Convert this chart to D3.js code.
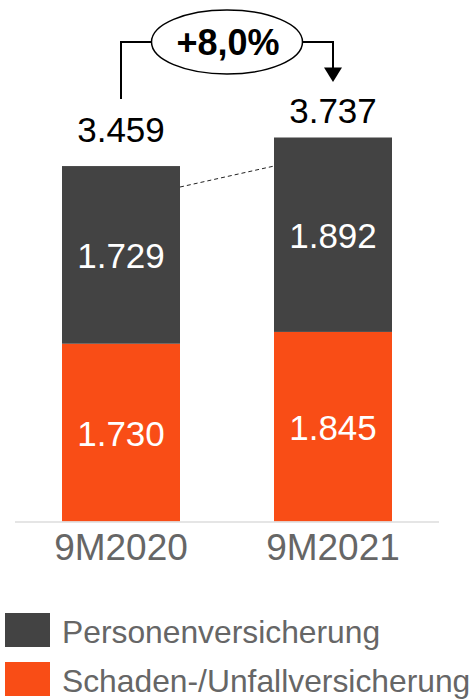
<!DOCTYPE html>
<html>
<head>
<meta charset="utf-8">
<script src="https://cdn.jsdelivr.net/npm/d3@7"></script>
<style>
  html, body { margin: 0; padding: 0; background: #fff; }
  svg { display: block; font-family: "Liberation Sans", Arial, sans-serif; }
</style>
</head>
<body>
<div id="chart"></div>
<script>
const periods = ["9M2020", "9M2021"];
const schaden = [1730, 1845];
const personen = [1729, 1892];
const totals = [3459, 3737];
const growthLabel = "+8,0%";
const seriesNames = ["Personenversicherung", "Schaden-/Unfallversicherung"];
// dashed guide between the bars, in value units (left end, right end)
const guideValues = [3255, 3459];

const colors = { personen: "#434343", schaden: "#F94D16" };
const fmt = (v) => d3.format(",")(v).replace(",", ".");

const width = 471;
const height = 700;

const svg = d3.select("#chart")
  .append("svg")
  .attr("width", width)
  .attr("height", height);

const x = d3.scaleBand()
  .domain(periods)
  .range([15, 439])
  .paddingInner(0.4434)
  .paddingOuter(0.2217);

const y = d3.scaleLinear()
  .domain([0, 3737])
  .range([521.5, 137.5]);

const rows = periods.map((p, i) => ({
  period: p, schaden: schaden[i], personen: personen[i], total: totals[i]
}));

const stack = d3.stack().keys(["schaden", "personen"])(rows);

svg.append("g")
  .selectAll("g")
  .data(stack)
  .join("g")
  .attr("fill", (s) => colors[s.key])
  .selectAll("rect")
  .data((s) => s.map((d) => ({ d, key: s.key })))
  .join("rect")
  .attr("x", (e) => x(e.d.data.period))
  .attr("y", (e) => y(e.d[1]))
  .attr("width", x.bandwidth())
  .attr("height", (e) => y(e.d[0]) - y(e.d[1]));

// segment labels
svg.append("g")
  .selectAll("text")
  .data(stack.flatMap((s) => s.map((d) => ({ d, key: s.key }))))
  .join("text")
  .attr("x", (e) => x(e.d.data.period) + x.bandwidth() / 2)
  .attr("y", (e) => (y(e.d[0]) + y(e.d[1])) / 2)
  .attr("dy", "0.37em")
  .attr("text-anchor", "middle")
  .attr("font-size", 35)
  .attr("fill", "#fff")
  .text((e) => fmt(e.d.data[e.key]));

// baseline
svg.append("line")
  .attr("x1", 15)
  .attr("x2", 439)
  .attr("y1", y(0) + 0.5)
  .attr("y2", y(0) + 0.5)
  .attr("stroke", "#dcdcdc")
  .attr("stroke-width", 1.5);

// category labels
svg.append("g")
  .selectAll("text")
  .data(periods)
  .join("text")
  .attr("x", (p) => x(p) + x.bandwidth() / 2)
  .attr("y", 560)
  .attr("text-anchor", "middle")
  .attr("font-size", 37)
  .attr("fill", "#666")
  .text((p) => p);

// totals
const totalOffsets = [24.5, 14.5];
svg.append("g")
  .selectAll("text")
  .data(rows)
  .join("text")
  .attr("x", (d) => x(d.period) + x.bandwidth() / 2)
  .attr("y", (d, i) => y(d.total) - totalOffsets[i])
  .attr("text-anchor", "middle")
  .attr("font-size", 35)
  .attr("fill", "#000")
  .text((d) => fmt(d.total));

// dashed guide
svg.append("line")
  .attr("x1", x(periods[0]) + x.bandwidth())
  .attr("x2", x(periods[1]))
  .attr("y1", y(guideValues[0]))
  .attr("y2", y(guideValues[1]))
  .attr("stroke", "#222")
  .attr("stroke-width", 1)
  .attr("stroke-dasharray", "4 3");

// growth bracket
const cx1 = x(periods[0]) + x.bandwidth() / 2;
const cx2 = x(periods[1]) + x.bandwidth() / 2;
const ex = (cx1 + cx2) / 2;
const ey = 42;
const rx = 75.5;
const ry = 32;

svg.append("path")
  .attr("d", `M${cx1},99 V${ey} H${ex - rx}`)
  .attr("fill", "none")
  .attr("stroke", "#000")
  .attr("stroke-width", 2);

svg.append("path")
  .attr("d", `M${ex + rx},${ey} H${cx2} V70`)
  .attr("fill", "none")
  .attr("stroke", "#000")
  .attr("stroke-width", 2);

svg.append("path")
  .attr("d", `M${cx2 - 9},67.5 L${cx2 + 9},67.5 L${cx2},82 Z`)
  .attr("fill", "#000");

svg.append("ellipse")
  .attr("cx", ex)
  .attr("cy", ey)
  .attr("rx", rx)
  .attr("ry", ry)
  .attr("fill", "#fff")
  .attr("stroke", "#000")
  .attr("stroke-width", 1.5);

svg.append("text")
  .attr("x", ex + 1)
  .attr("y", ey)
  .attr("dy", "0.36em")
  .attr("text-anchor", "middle")
  .attr("font-size", 36)
  .attr("font-weight", "bold")
  .attr("fill", "#000")
  .text(growthLabel);

// legend
const legend = svg.append("g")
  .selectAll("g")
  .data(seriesNames)
  .join("g")
  .attr("transform", (d, i) => `translate(5, ${613 + i * 49})`);

legend.append("rect")
  .attr("width", 45)
  .attr("height", 34)
  .attr("fill", (d, i) => i === 0 ? colors.personen : colors.schaden);

legend.append("text")
  .attr("x", 57)
  .attr("y", 30)
  .attr("font-size", 31.8)
  .attr("fill", "#666")
  .text((d) => d);
</script>
</body>
</html>
